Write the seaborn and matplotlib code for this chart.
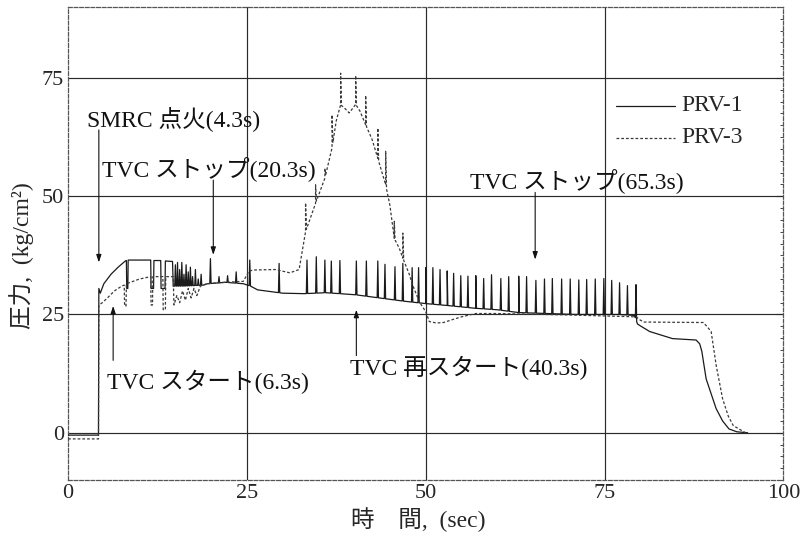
import numpy as np
import pandas as pd
import matplotlib
matplotlib.use("Agg")
import matplotlib.pyplot as plt
import seaborn as sns

# ---- PRV-1 (solid) : base trace, time [s] / pressure [kg/cm^2]
prv1_t = [0, 4.25, 4.3, 4.5, 5.0, 6.0, 7.0, 8.0, 8.15, 8.2, 8.35, 8.4, 11.55,
          11.6, 11.95, 12.0, 12.95, 13.0, 13.55, 13.6, 14.6, 14.7, 16.0, 18.9,
          19.5, 22.0, 24.5, 25.5, 26.5, 28.5, 30.0, 33.0, 36.0, 40.0, 44.0,
          47.0, 50.0, 53.0, 57.0, 60.0, 63.0, 67.0, 71.0, 77.0, 79.2, 79.6,
          80.0, 81.3, 84.5, 87.8, 88.3, 88.6, 89.2, 90.6, 91.5, 92.4, 93.5, 95.0]
prv1_p = [-0.5, -0.5, 30.5, 29.5, 31.5, 33.5, 35.0, 36.3, 36.4, 30.5, 30.5, 36.5,
          36.5, 30.5, 30.5, 36.4, 36.4, 30.5, 30.5, 36.3, 36.2, 31.0, 31.0, 31.2,
          31.5, 31.8, 31.5, 31.0, 30.2, 29.8, 29.5, 29.4, 29.6, 29.2, 28.4,
          27.8, 27.3, 26.9, 26.3, 26.0, 25.4, 25.2, 25.0, 25.0, 24.8, 23.0,
          22.6, 21.4, 19.9, 19.6, 18.8, 17.2, 11.4, 5.1, 2.5, 0.8, 0.2, 0.0]

# PRV-1 pulses (time, peak value)
prv1_spike_t = [15.0, 15.3, 15.6, 15.9, 16.2, 16.5, 16.8, 17.1, 17.4, 17.8, 18.2,
                18.6, 19.9, 21.1, 22.3, 23.5, 25.4, 29.5, 33.4, 34.7, 35.9, 36.8,
                38.0, 40.3, 41.7, 43.3, 44.3, 45.7, 46.8, 48.1, 49.0, 50.0, 51.0,
                52.0, 53.0, 53.9, 54.9, 55.9, 57.0, 58.1, 59.2, 60.5, 61.6, 63.0,
                64.1, 65.4, 66.6, 67.7, 69.0, 70.2, 71.4, 72.5, 73.7, 74.9, 76.0,
                77.1, 78.2, 79.4]
prv1_spike_top = [35.5, 36.0, 34.5, 36.0, 33.5, 35.5, 34.0, 35.0, 33.0, 34.5, 32.5,
                  33.5, 36.8, 33.0, 33.2, 34.0, 36.5, 35.8, 36.5, 37.2, 36.5, 36.3,
                  36.4, 36.3, 36.3, 36.3, 35.6, 35.1, 35.8, 34.9, 34.9, 34.9, 34.9,
                  34.5, 34.2, 33.7, 33.2, 33.1, 33.2, 32.6, 33.4, 32.6, 33.0, 33.1,
                  33.0, 32.2, 32.5, 32.6, 32.5, 32.5, 32.3, 32.4, 32.5, 32.6, 32.2,
                  31.7, 31.1, 31.3]

# ---- PRV-3 (dashed) : base trace
prv3_t = [0, 4.25, 4.3, 4.8, 5.5, 6.5, 7.5, 7.85, 7.9, 8.1, 8.15, 10.0, 11.55,
          11.6, 11.8, 11.85, 13.25, 13.3, 13.6, 13.65, 14.7, 14.8, 15.2, 15.6,
          16.0, 16.4, 16.8, 17.2, 17.6, 18.0, 18.5, 19.4, 22.0, 24.5, 25.3, 26.0,
          29.0, 31.0, 32.3, 33.2, 34.6, 35.9, 36.9, 37.5, 38.1, 38.6, 39.3, 40.2,
          40.8, 41.6, 42.5, 43.3, 44.4, 45.0, 45.6, 46.3, 46.8, 47.7, 48.1, 49.1,
          50.0, 50.5, 51.5, 52.5, 53.5, 55.0, 57.0, 60.0, 70.0, 79.4, 80.0, 80.5,
          88.8, 89.3, 89.9, 90.6, 91.5, 92.3, 93.0, 94.7, 95.0]
prv3_p = [-1.3, -1.3, 27.0, 27.5, 28.5, 30.0, 31.0, 31.2, 26.8, 26.8, 31.5, 32.5,
          33.0, 27.0, 27.0, 33.0, 33.0, 26.0, 26.0, 33.0, 33.0, 27.0, 29.0, 27.5,
          30.0, 28.0, 30.5, 28.5, 30.5, 29.0, 31.0, 31.5, 31.8, 32.0, 34.2, 34.4,
          34.5, 33.8, 34.5, 42.5, 48.5, 53.8, 60.2, 66.0, 69.3, 68.7, 67.6, 69.4,
          68.0, 65.1, 62.0, 58.0, 52.4, 48.0, 41.1, 39.0, 36.9, 33.5, 31.5, 27.7,
          25.6, 23.5, 23.2, 23.3, 23.8, 24.5, 25.2, 25.2, 24.9, 24.5, 23.8, 23.4,
          23.3, 22.5, 21.4, 14.3, 7.2, 3.5, 1.5, 0.0, 0.0]

# PRV-3 pulses during the pressure rise
prv3_spike_t = [33.2, 34.6, 35.9, 36.9, 38.1, 40.2, 41.6, 43.3, 44.4, 45.6, 46.8]
prv3_spike_top = [48.6, 52.4, 55.9, 67.2, 76.0, 75.5, 71.3, 64.4, 59.5, 44.7, 42.2]

# ---- annotations: text, event time, text anchor (t, p), arrow start / end pressure
event_text = ["SMRC 点火(4.3s)", "TVC ストップ(20.3s)", "TVC ストップ(65.3s)",
              "TVC スタート(6.3s)", "TVC 再スタート(40.3s)"]
event_time = [4.3, 20.3, 65.3, 6.3, 40.3]
event_text_pos = [(2.6, 66.5), (4.8, 55.9), (56.2, 53.4), (5.5, 10.8), (39.4, 13.6)]
event_arrow_from = [64.0, 53.4, 50.8, 15.3, 16.3]
event_arrow_to = [36.0, 37.6, 36.6, 26.8, 26.0]

x_ticks = [0, 25, 50, 75, 100]
y_ticks = [0, 25, 50, 75]


def with_pulses(t, p, st, sp, half=0.1):
    """Merge narrow pulses (time, peak) into a base trace."""
    tt = list(t)
    pp = list(p)
    for ts, top in zip(st, sp):
        for dt in (-half, half):
            tt.append(ts + dt)
            pp.append(float(np.interp(ts + dt, t, p)))
        tt.append(ts)
        pp.append(top)
    order = np.argsort(tt, kind="stable")
    return np.asarray(tt)[order], np.asarray(pp)[order]


t1, p1 = with_pulses(prv1_t, prv1_p, prv1_spike_t, prv1_spike_top, 0.09)
t3, p3 = with_pulses(prv3_t, prv3_p, prv3_spike_t, prv3_spike_top, 0.12)

df = pd.concat([
    pd.DataFrame({"time": t1, "pressure": p1, "ch": "PRV-1"}),
    pd.DataFrame({"time": t3, "pressure": p3, "ch": "PRV-3"}),
], ignore_index=True)

sns.set_style("white")
plt.rcParams["font.family"] = ["Liberation Serif", "Noto Sans CJK JP"]
plt.rcParams["axes.unicode_minus"] = False

fig = plt.figure(figsize=(8.01, 5.34), dpi=100)
ax = fig.add_axes([0.085, 0.101, 0.893, 0.886])

sns.lineplot(data=df, x="time", y="pressure", hue="ch", style="ch",
             estimator=None, sort=False,
             palette={"PRV-1": "#1a1a1a", "PRV-3": "#3a3a3a"},
             dashes={"PRV-1": "", "PRV-3": (2.2, 1.6)},
             linewidth=0.9, ax=ax, legend=False, zorder=3)

ax.set_xlim(0, 100)
ax.set_ylim(-10, 90)
ax.set_xticks(x_ticks)
ax.set_yticks(y_ticks)
ax.set_xticks(np.arange(0, 100.1, 2.5), minor=True)
ax.set_yticks(np.arange(-10, 90.1, 2.5), minor=True)
ax.tick_params(axis="both", which="major", direction="in", length=5,
               width=0.8, labelsize=16, pad=3)
ax.tick_params(axis="both", which="minor", direction="in", length=2.5, width=0.6)
ax.tick_params(top=False, right=True, which="both")

for v in x_ticks[1:-1]:
    ax.axvline(v, color="#2a2a2a", lw=0.85, zorder=1)
for v in y_ticks:
    ax.axhline(v, color="#2a2a2a", lw=0.85, zorder=1)

for s in ax.spines.values():
    s.set_linestyle((0, (3, 1.5)))
    s.set_linewidth(0.9)
    s.set_color("#555555")

ax.set_xlabel("時　間,  (sec)", fontsize=17)
ax.set_ylabel("圧力,  (kg/cm²)", fontsize=17)
ax.xaxis.set_label_coords(0.49, -0.058)
ax.yaxis.set_label_coords(-0.048, 0.475)

for txt, te, (tx, ty), a0, a1 in zip(event_text, event_time, event_text_pos,
                                      event_arrow_from, event_arrow_to):
    ax.text(tx, ty, txt, fontsize=17, va="center", ha="left", zorder=5,
            color="#111111")
    ax.annotate("", xy=(te, a1), xytext=(te, a0),
                arrowprops=dict(arrowstyle="-|>,head_length=0.45,head_width=0.15",
                                color="#111111", lw=0.8, shrinkA=0, shrinkB=0),
                zorder=5)

# legend
ax.plot([76.6, 84.8], [69.1, 69.1], color="#1a1a1a", lw=0.9)
ax.plot([76.6, 84.8], [62.3, 62.3], color="#3a3a3a", lw=0.9, dashes=(2.2, 1.6))
ax.text(85.7, 69.1, "PRV-1", fontsize=17, va="center", ha="left")
ax.text(85.7, 62.3, "PRV-3", fontsize=17, va="center", ha="left")

fig.savefig("out.png", dpi=100)
